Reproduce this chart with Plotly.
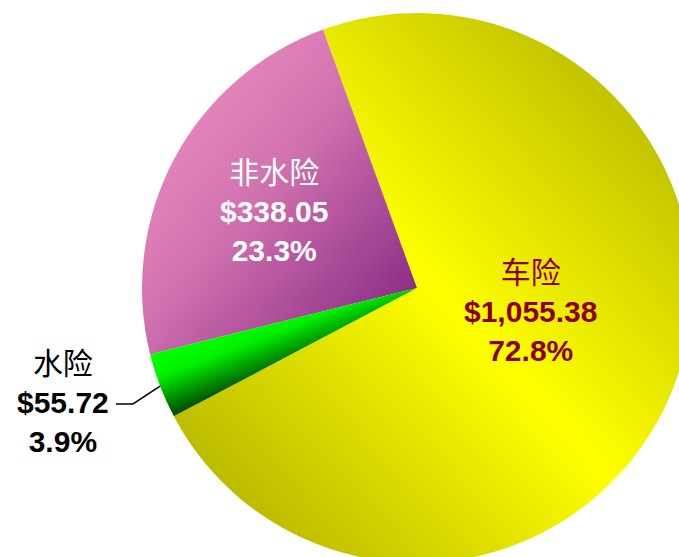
import json
import math
import plotly.graph_objects as go

# Insurance claims by category
categories = ["车险", "非水险", "水险"]
amounts = [1055.38, 338.05, 55.72]
shares = [72.8, 23.3, 3.9]          # percent labels as reported
label_colors = ["#8b0000", "#ffffff", "#000000"]

# Canvas / pie geometry (pixels)
W, H = 700, 570
CX, CY, R = 417, 288, 275
ROTATION = 340.0   # first slice runs clockwise from here; the rest follow counterclockwise

fig = go.Figure(go.Pie(
    labels=categories,
    values=amounts,
    sort=False,
    direction="counterclockwise",
    rotation=ROTATION,
    textinfo="none",
    hoverinfo="skip",
    marker=dict(colors=["#ffff00", "#c050a0", "#00c000"], line=dict(width=0)),
    domain=dict(x=[(CX - R) / W, (CX + R) / W],
                y=[1 - (CY + R) / H, 1 - (CY - R) / H]),
    showlegend=False,
))


def px(x, y):
    return x / W, 1 - y / H


def label_text(i):
    return (f"{categories[i]}<br><b>${amounts[i]:,.2f}</b>"
            f"<br><b>{shares[i]:.1f}%</b>")


label_pos = [(530, 311), (274, 211), (63, 402)]
font_family = "Liberation Sans, Arial, Noto Sans CJK SC"
for i, (lx, ly) in enumerate(label_pos):
    ax, ay = px(lx, ly)
    fig.add_annotation(
        x=ax, y=ay, xref="paper", yref="paper",
        text=label_text(i), showarrow=False,
        xanchor="center", yanchor="middle", align="center",
        font=dict(family=font_family, size=30, color=label_colors[i]),
    )

# Leader line from the 水险 label to the middle of its slice
total = sum(amounts)
mid_deg = ROTATION - 360 * amounts[1] / total - 180 * amounts[2] / total
mid = math.radians(mid_deg)
ex, ey = CX + R * math.sin(mid), CY - R * math.cos(mid)
p0, p1, p2 = px(116, 404), px(133, 404), px(ex, ey)
fig.add_shape(
    type="path", xref="paper", yref="paper",
    path=f"M {p0[0]},{p0[1]} L {p1[0]},{p1[1]} L {p2[0]},{p2[1]}",
    line=dict(color="#000000", width=1.5),
)

fig.update_layout(
    width=W, height=H,
    margin=dict(l=0, r=0, t=0, b=0),
    paper_bgcolor="#ffffff",
    plot_bgcolor="#ffffff",
)

# Per-slice shading gradients; the green one runs across its slice bisector
nx, ny = math.cos(mid), math.sin(mid)
gradients = [
    dict(id="gradCar", units="objectBoundingBox", x1=1, y1=0, x2=0, y2=1,
         stops=[[0, "#a9a900"], [0.5, "#ffff00"], [1, "#a6a600"]]),
    dict(id="gradNonWater", units="objectBoundingBox", x1=0, y1=0, x2=1, y2=1,
         stops=[[0, "#f598c8"], [0.45, "#d273b0"], [1, "#7e1f7e"]]),
    dict(id="gradWater", units="userSpaceOnUse",
         x1=CX + 28 * nx, y1=CY + 28 * ny, x2=CX - 28 * nx, y2=CY - 28 * ny,
         stops=[[0, "#00ff00"], [0.35, "#00f000"], [1, "#005800"]]),
]

post = """
var gd = document.getElementById('{plot_id}');
document.documentElement.style.overflow = 'hidden';
document.body.style.overflow = 'hidden';
document.body.style.margin = '0';
var wrap = gd.parentElement;
wrap.style.width = '679px';
wrap.style.height = '557px';
wrap.style.overflow = 'hidden';
var NS = 'http://www.w3.org/2000/svg';
var svg = gd.querySelector('svg.main-svg');
var defs = svg.querySelector('defs');
var specs = GRADIENTS;
var paths = gd.querySelectorAll('g.slice path.surface');
specs.forEach(function (s, i) {
  var g = document.createElementNS(NS, 'linearGradient');
  g.setAttribute('id', s.id);
  g.setAttribute('gradientUnits', s.units);
  g.setAttribute('x1', s.x1); g.setAttribute('y1', s.y1);
  g.setAttribute('x2', s.x2); g.setAttribute('y2', s.y2);
  s.stops.forEach(function (st) {
    var e = document.createElementNS(NS, 'stop');
    e.setAttribute('offset', st[0]);
    e.setAttribute('stop-color', st[1]);
    g.appendChild(e);
  });
  defs.appendChild(g);
  if (paths[i]) { paths[i].style.fill = 'url(#' + s.id + ')'; }
});
""".replace("GRADIENTS", json.dumps(gradients))

fig.write_html("out.html", config={"displayModeBar": False, "staticPlot": True},
               post_script=post)
